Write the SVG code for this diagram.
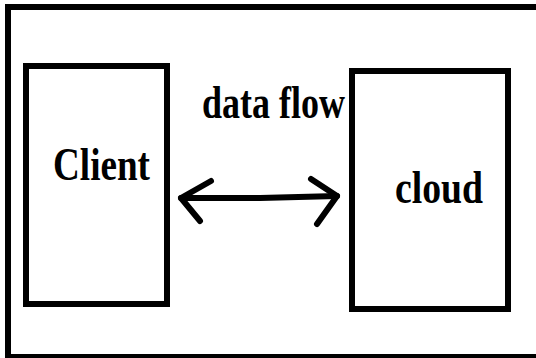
<svg xmlns="http://www.w3.org/2000/svg" width="536" height="358" viewBox="0 0 536 358">
  <style>
    .box { fill: none; stroke: #000; stroke-width: 6; }
    .label { font-family: "Liberation Serif", "Times New Roman", serif; font-weight: bold; font-size: 47px; fill: #000; }
    .link { fill: none; stroke: #000; stroke-width: 6; stroke-linecap: round; stroke-linejoin: round; }
  </style>
  <rect width="536" height="358" fill="#fff"/>
  <!-- outer frame -->
  <rect class="box" x="8" y="7" width="540" height="350"/>

  <g id="client">
    <rect class="box" x="26" y="66" width="141" height="238"/>
    <text class="label" x="53" y="180" textLength="97" lengthAdjust="spacingAndGlyphs">Client</text>
  </g>

  <g id="cloud">
    <rect class="box" x="352" y="71" width="156" height="238"/>
    <text class="label" x="395" y="203" textLength="88" lengthAdjust="spacingAndGlyphs">cloud</text>
  </g>

  <g id="connectors">
    <path class="link" d="M181 198 L260 198 L337 196"/>
    <path class="link" d="M211 181 L181 198 L200 221"/>
    <path class="link" d="M311 179 L337 196 L317 224"/>
    <text class="label" x="202" y="118" textLength="143" lengthAdjust="spacingAndGlyphs">data flow</text>
  </g>
</svg>
